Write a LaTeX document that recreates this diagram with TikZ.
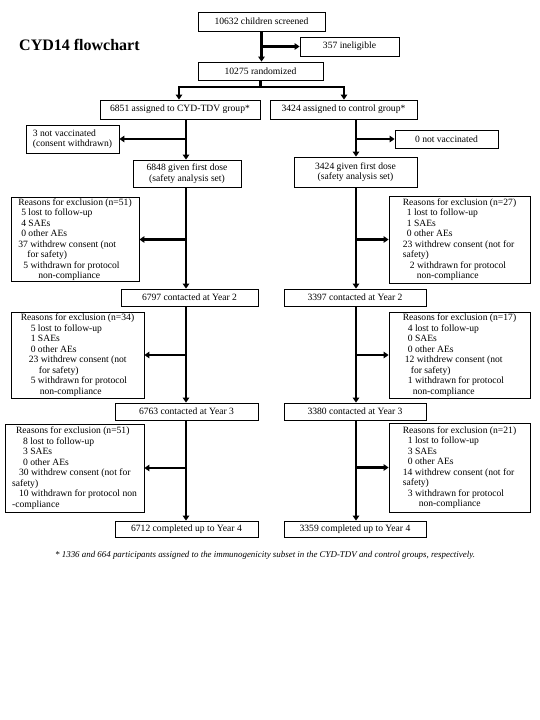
\documentclass[tikz,border=0pt]{standalone}
\usepackage{fontspec}
\setmainfont{Liberation Serif}
\usetikzlibrary{arrows.meta}
\begin{document}
\begin{tikzpicture}[x=1pt,y=-1pt,
  box/.style={draw, line width=0.8pt, inner sep=1pt, align=center,
    font=\fontsize{9.6}{10.5}\selectfont},
  exbox/.style={box, align=left},
  conn/.style={line width=2.2pt, line join=miter},
  arr/.style={conn, -{Triangle[length=5pt,width=6.5pt]}}]
\useasboundingbox[fill=white] (0,0) rectangle (540,720);
% title
\node[anchor=west, font=\fontsize{16}{18}\selectfont\bfseries, inner sep=0] (title) at (19,45) {CYD14 flowchart};
% top boxes
\node[box, minimum width=127pt, minimum height=19pt] (screen) at (261.5,21.5) {10632 children screened};
\node[box, minimum width=99pt, minimum height=19pt] (inel) at (349.5,46.5) {357 ineligible};
\node[box, minimum width=125pt, minimum height=18pt] (rand) at (260.5,71) {10275 randomized};
\node[box, minimum width=160pt, minimum height=19pt] (cydA) at (180,109.5) {6851 assigned to CYD-TDV group*};
\node[box, minimum width=147pt, minimum height=19pt] (ctlA) at (343.5,109.5) {3424 assigned to control group*};
% not vaccinated
\node[exbox, minimum width=93pt, minimum height=28pt] (nv1) at (72.5,139) {3 not vaccinated\\(consent withdrawn)};
\node[box, minimum width=103pt, minimum height=18pt] (nv2) at (446.5,139) {0 not vaccinated};
% first dose
\node[box, minimum width=108pt, minimum height=27pt] (fd1) at (187,173.5) {6848 given first dose\\(safety analysis set)};
\node[box, minimum width=123pt, minimum height=30pt] (fd2) at (355.5,172) {3424 given first dose\\(safety analysis set)};
% exclusions 1
\node[exbox, minimum width=128pt, minimum height=83pt] (ex1L) at (75,239.5) {Reasons for exclusion (n=51)\\
\hspace*{3pt}5 lost to follow-up\\
\hspace*{3pt}4 SAEs\\
\hspace*{3pt}0 other AEs\\
37 withdrew consent (not\\
\hspace*{9pt}for safety)\\
\hspace*{5pt}5 withdrawn for protocol\\
\hspace*{20pt}non-compliance};
\node[exbox, minimum width=141pt, minimum height=87pt] (ex1R) at (459.5,239.5) {Reasons for exclusion (n=27)\\
\hspace*{4pt}1 lost to follow-up\\
\hspace*{4pt}1 SAEs\\
\hspace*{4pt}0 other AEs\\
23 withdrew consent (not for\\
safety)\\
\hspace*{7pt}2 withdrawn for protocol\\
\hspace*{14pt}non-compliance};
% year 2
\node[box, minimum width=137pt, minimum height=17pt] (y2L) at (189.5,297.5) {6797 contacted at Year 2};
\node[box, minimum width=142pt, minimum height=17pt] (y2R) at (355,297.5) {3397 contacted at Year 2};
% exclusions 2
\node[exbox, minimum width=133pt, minimum height=86pt] (ex2L) at (77.5,355) {Reasons for exclusion (n=34)\\
\hspace*{10pt}5 lost to follow-up\\
\hspace*{10pt}1 SAEs\\
\hspace*{10pt}0 other AEs\\
\hspace*{8pt}23 withdrew consent (not\\
\hspace*{18pt}for safety)\\
\hspace*{10pt}5 withdrawn for protocol\\
\hspace*{19pt}non-compliance};
\node[exbox, minimum width=141pt, minimum height=86pt] (ex2R) at (459.5,355) {Reasons for exclusion (n=17)\\
\hspace*{5pt}4 lost to follow-up\\
\hspace*{5pt}0 SAEs\\
\hspace*{5pt}0 other AEs\\
\hspace*{2pt}12 withdrew consent (not\\
\hspace*{8pt}for safety)\\
\hspace*{5pt}1 withdrawn for protocol\\
\hspace*{10pt}non-compliance};
% year 3
\node[box, minimum width=143pt, minimum height=17pt] (y3L) at (186.5,411.5) {6763 contacted at Year 3};
\node[box, minimum width=142pt, minimum height=17pt] (y3R) at (355,411.5) {3380 contacted at Year 3};
% exclusions 3
\node[exbox, minimum width=139pt, minimum height=88pt] (ex3L) at (74.5,468) {\hspace*{4pt}Reasons for exclusion (n=51)\\
\hspace*{11pt}8 lost to follow-up\\
\hspace*{11pt}3 SAEs\\
\hspace*{11pt}0 other AEs\\
\hspace*{7pt}30 withdrew consent (not for\\
safety)\\
\hspace*{7pt}10 withdrawn for protocol non\\
-compliance};
\node[exbox, minimum width=141pt, minimum height=89pt] (ex3R) at (459.5,467.5) {Reasons for exclusion (n=21)\\
\hspace*{5pt}1 lost to follow-up\\
\hspace*{5pt}3 SAEs\\
\hspace*{5pt}0 other AEs\\
14 withdrew consent (not for\\
safety)\\
\hspace*{5pt}3 withdrawn for protocol\\
\hspace*{16pt}non-compliance};
% year 4
\node[box, minimum width=143pt, minimum height=16pt] (y4L) at (186.5,529) {6712 completed up to Year 4};
\node[box, minimum width=142pt, minimum height=16pt] (y4R) at (355,529) {3359 completed up to Year 4};
% footnote
\node[anchor=west, inner sep=0, font=\fontsize{8.9}{10}\selectfont\itshape] (foot) at (55,555) {* 1336 and 664 participants assigned to the immunogenicity subset in the CYD-TDV and control groups, respectively.};
% column coordinates
\coordinate (colL) at (186,0);
\coordinate (colR) at (356,0);
\coordinate (spL) at (179,87);
\coordinate (spR) at (344,87);
% top connectors
\draw[arr] (screen.south) -- (screen.south |- rand.north);
\draw[arr] (screen.south |- inel.west) -- (inel.west);
\draw[arr] (rand.south) |- (spL) -- (spL |- cydA.north);
\draw[arr] (rand.south |- spR) -- (spR) -- (spR |- ctlA.north);
% left column
\draw[arr] (cydA.south -| colL) -- (fd1.north -| colL);
\draw[arr] (nv1.east -| colL) -- (nv1.east);
\draw[arr] (fd1.south -| colL) -- (y2L.north -| colL);
\draw[arr] (ex1L.east -| colL) -- (ex1L.east);
\draw[arr] (y2L.south -| colL) -- (y3L.north -| colL);
\draw[arr] (ex2L.east -| colL) -- (ex2L.east);
\draw[arr] (y3L.south -| colL) -- (y4L.north -| colL);
\draw[arr] (ex3L.east -| colL) -- (ex3L.east);
% right column
\draw[arr] (ctlA.south -| colR) -- (fd2.north -| colR);
\draw[arr] (nv2.west -| colR) -- (nv2.west);
\draw[arr] (fd2.south -| colR) -- (y2R.north -| colR);
\draw[arr] (ex1R.west -| colR) -- (ex1R.west);
\draw[arr] (y2R.south -| colR) -- (y3R.north -| colR);
\draw[arr] (ex2R.west -| colR) -- (ex2R.west);
\draw[arr] (y3R.south -| colR) -- (y4R.north -| colR);
\draw[arr] (ex3R.west -| colR) -- (ex3R.west);
\end{tikzpicture}
\end{document}
